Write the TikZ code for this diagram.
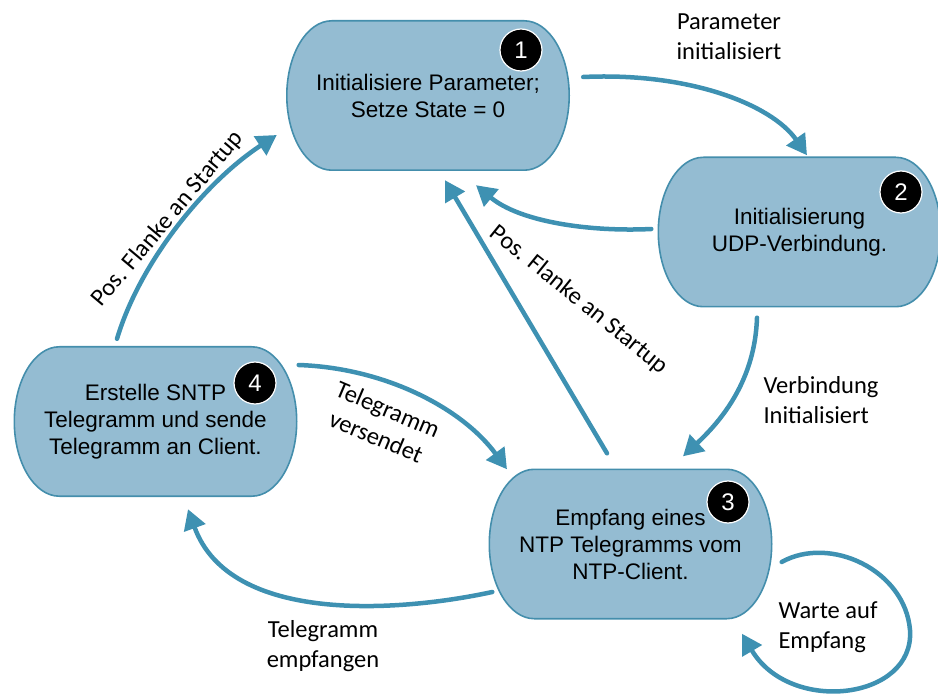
\documentclass[tikz,border=0pt]{standalone}
\usepackage{fontspec}
\setmainfont{Liberation Sans}
\newfontfamily\labelfont{Carlito}
\usepackage{tikz}
\usetikzlibrary{arrows.meta,positioning,calc,backgrounds}
\usepackage{xcolor}
\definecolor{statefill}{RGB}{148,188,210}
\definecolor{stateline}{RGB}{68,142,172}
\definecolor{flowblue}{RGB}{62,145,178}

\begin{document}
\begin{tikzpicture}[x=1pt,y=-1pt,
    state/.style={minimum width=282pt,minimum height=149pt,align=center,inner sep=0pt,
        font=\fontsize{22.5}{27}\selectfont},
    stateborder/.style={draw=stateline,line width=1.6pt,fill=statefill},
    badge/.style={circle,fill=black,draw=white,line width=1.2pt,minimum size=42pt,
        inner sep=0pt,text=white,font=\fontsize{24}{24}\selectfont},
    flow/.style={flowblue,line width=4.5pt,line cap=round,
        -{Triangle[length=20pt,width=22pt]}},
    lbl/.style={font=\labelfont\fontsize{24.5}{30}\selectfont}]
                    \useasboundingbox (0,0) rectangle (938,695);
                    \node[state] (n1) at (428,95.5) {Initialisiere Parameter;\\Setze State = 0};
                    \node[state] (n2) at (799.5,232) {Initialisierung\\UDP-Verbindung.};
                    \node[state] (n3) at (630.5,544) {Empfang eines\\NTP Telegramms vom\\NTP-Client.};
                    \node[state] (n4) at (155.5,421.5) {Erstelle SNTP\\Telegramm und sende\\Telegramm an Client.};
                    \begin{pgfonlayer}{background}
                        \foreach \s in {n1,n2,n3,n4}
                            \draw[stateborder] ($(\s.north west)+(45,0)$)
                                .. controls ($(\s.north west)+(20,0)$) and ($(\s.west)+(0,-41)$) .. (\s.west)
                                .. controls ($(\s.west)+(0,41)$) and ($(\s.south west)+(20,0)$) .. ($(\s.south west)+(45,0)$)
                                -- ($(\s.south east)+(-45,0)$)
                                .. controls ($(\s.south east)+(-20,0)$) and ($(\s.east)+(0,41)$) .. (\s.east)
                                .. controls ($(\s.east)+(0,-41)$) and ($(\s.north east)+(-20,0)$) .. ($(\s.north east)+(-45,0)$)
                                -- cycle;
                    \end{pgfonlayer}
                    \node[badge] (b1) at (521,50) {1};
                    \node[badge] (b2) at (901,192) {2};
                    \node[badge] (b3) at (728,502) {3};
                    \node[badge] (b4) at (255,383) {4};
                    \draw[flow] ($(n1.east)+(14,-18.5)$) .. controls (690,72) and (772,105) .. ($(n2.north)+(7.5,-2)$);
                    \draw[flow] ($(n2.west)+(-7,-3)$) .. controls (590,232) and (520,222) .. ($(n1.south)+(48,15)$);
                    \draw[flow] ($(n3.north)+(-23.5,-16)$) -- ($(n1.south)+(17,10)$);
                    \draw[flow] ($(n4.north)+(-38.5,-8)$) .. controls (140,262) and (205,182) .. ($(n1.west)+(-10,39.5)$);
                    \draw[flow] ($(n2.south)+(-42.5,11)$) .. controls (755,380) and (722,420) .. ($(n3.north)+(52.5,-13)$);
                    \draw[flow] ($(n4.east)+(2,-56.5)$) .. controls (385,368) and (462,408) .. ($(n3.north)+(-123.5,0)$);
                    \draw[flow] ($(n3.west)+(3,48)$) .. controls (400,612) and (230,625) .. ($(n4.south)+(32.5,13)$);
                    \draw[flow] ($(n3.east)+(10,18)$) .. controls (830,535) and (905,570) .. (910,630)
                        .. controls (915,700) and (790,715) .. ($(n3.south)+(111.5,15)$);
                    \node[lbl,align=center] (l12) at (729,37) {Parameter\\initialisiert};
                    \node[lbl,rotate=50] (l41) at (168,219) {Pos. Flanke an Startup};
                    \node[lbl,rotate=-39] (l31) at (579,300) {Pos. Flanke an Startup};
                    \node[lbl,align=left,anchor=west] (l23) at (760,400) {Verbindung\\Initialisiert};
                    \node[lbl,align=center,rotate=-23] (l43) at (382,423) {Telegramm\\versendet};
                    \node[lbl,align=center] (l34) at (323,646) {Telegramm\\empfangen};
                    \node[lbl,align=left,anchor=west] (l33) at (775,627) {Warte auf\\Empfang};
                \end{tikzpicture}
\end{document}
